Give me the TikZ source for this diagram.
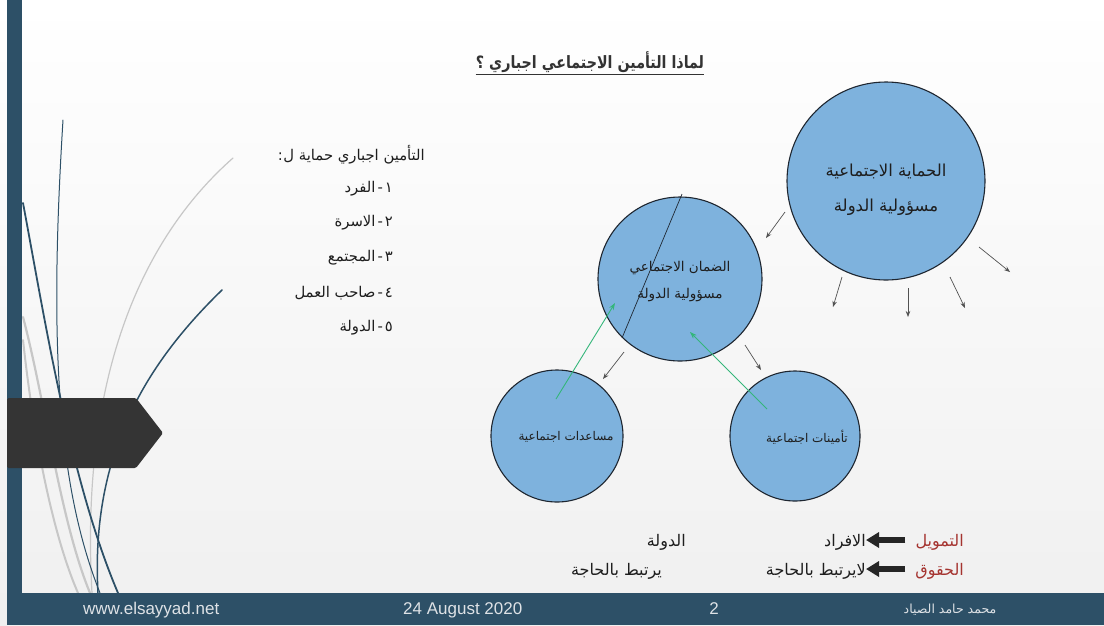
\documentclass[tikz,border=0pt]{standalone}
\usepackage{fontspec}
\usepackage{graphicx}
\usetikzlibrary{arrows.meta,calc}
\setmainfont{Liberation Sans}
\newfontfamily\arfont[Script=Arabic]{DejaVu Sans}
\TeXXeTstate=1
\newcommand{\AR}[1]{{\arfont\beginR #1\endR}}
\definecolor{barblue}{RGB}{45,80,103}
\definecolor{bubblefill}{RGB}{126,178,221}
\definecolor{bubbleline}{RGB}{30,38,48}
\definecolor{pointer}{RGB}{52,52,52}
\definecolor{flowgreen}{RGB}{52,182,122}
\definecolor{termred}{RGB}{165,52,48}
\definecolor{inktext}{RGB}{30,30,30}
\definecolor{footink}{RGB}{222,226,230}
\begin{document}
\begin{tikzpicture}[x=1pt,y=-1pt,
  bubble/.style={circle,draw=bubbleline,line width=1.1pt,fill=bubblefill,inner sep=0pt},
  bubbletext/.style={align=center,inner sep=0pt,text=inktext},
  listitem/.style={anchor=base east,inner sep=0pt,text=inktext,font=\fontsize{14.8}{17}\selectfont},
  rowtext/.style={anchor=base east,inner sep=0pt,text=inktext,font=\fontsize{16}{18}\selectfont},
  rowterm/.style={rowtext,text=termred},
  grayarrow/.style={draw=pointer!85,line width=0.7pt,-{Stealth[length=6pt,width=4.5pt]}},
  greenarrow/.style={draw=flowgreen,line width=0.9pt,-{Stealth[length=7pt,width=5pt]}},
  blockarrow/.style={draw=black!85,line width=6.5pt,-{Triangle[length=13pt,width=15pt]}},
  foottext/.style={text=footink,inner sep=0pt,font=\fontsize{17}{20}\selectfont},
  sweepdark/.style={draw=barblue,line cap=round},
  sweeplight/.style={draw=black!22,line cap=round}]
\useasboundingbox (0,0) rectangle (1104,625);
% slide background
\shade[top color=white,bottom color=black!6] (0,0) rectangle (1104,625);
% decorative sweeping curves on the left
\draw[sweeplight,line width=1.2pt] (233,158) .. controls (140,240) and (80,380) .. (92,593);
\draw[sweeplight,line width=2.2pt] (23,317) .. controls (45,400) and (60,520) .. (90,593);
\draw[sweeplight,line width=2pt] (23,340) .. controls (35,450) and (55,540) .. (78,593);
\draw[sweepdark,line width=1pt] (63,120) .. controls (50,330) and (55,480) .. (100,593);
\draw[sweepdark,line width=1.8pt] (23,203) .. controls (45,320) and (70,480) .. (118,593);
\draw[sweepdark,line width=1.5pt] (222,290) .. controls (150,360) and (90,450) .. (98,593);
% left rail and footer band
\fill[barblue] (7,0) rectangle (22,593);
\fill[barblue] (7,593) rectangle (1104,625);
% pentagon marker
\fill[pointer,rounded corners=1.5pt] (7,398) -- (136,398) -- (163,433) -- (136,468) -- (7,468) -- cycle;

% title
\node[inner sep=0pt,text=black!80,font=\bfseries\fontsize{17}{20}\selectfont] (title) at (590,62)
  {\scalebox{0.84}[1]{\AR{لماذا التأمين الاجتماعي اجباري ؟}}};
\draw[black!80,line width=0.9pt] ($(title.base west)+(0,6)$) -- ($(title.base east)+(0,6)$);

% list on the left
\node[listitem] (lead) at (425,160) {\AR{التأمين اجباري حماية ل\kern0.5pt:}};
\node[listitem] (item1) at (393,192) {\AR{١\kern2pt-\kern2pt الفرد}};
\node[listitem] (item2) at (393,226) {\AR{٢\kern2pt-\kern2pt الاسرة}};
\node[listitem] (item3) at (393,261) {\AR{٣\kern2pt-\kern2pt المجتمع}};
\node[listitem] (item4) at (393,297) {\AR{٤\kern2pt-\kern2pt صاحب العمل}};
\node[listitem] (item5) at (393,331) {\AR{٥\kern2pt-\kern2pt الدولة}};

% circles
\node[bubble,minimum size=198pt] (protC) at (886,181) {};
\node[bubble,minimum size=164pt] (guarC) at (680,279) {};
\node[bubble,minimum size=132pt] (aidC) at (557,436) {};
\node[bubble,minimum size=130pt] (insC) at (795,436) {};

\node[bubbletext,font=\fontsize{16.5}{35}\selectfont] (protT) at (886,190)
  {\AR{الحماية الاجتماعية}\\\AR{مسؤولية الدولة}};
\node[bubbletext,font=\fontsize{13.5}{27}\selectfont] (guarT) at (680,282)
  {\AR{الضمان الاجتماعي}\\\AR{مسؤولية الدولة}};
\node[bubbletext,font=\fontsize{12}{14}\selectfont] (aidT) at (566,437) {\AR{مساعدات اجتماعية}};
\node[bubbletext,font=\fontsize{12}{14}\selectfont] (insT) at (807,437) {\AR{تأمينات اجتماعية}};

% slash across the middle circle
\coordinate (slashTop) at (682,194);
\coordinate (slashBot) at (622,338);
\draw[bubbleline,line width=0.7pt] (slashTop) -- (slashBot);

% arrows radiating from the large circle
\coordinate (r1s) at (785,212); \coordinate (r1e) at (766,238);
\coordinate (r2s) at (842,277); \coordinate (r2e) at (833,307);
\coordinate (r3s) at (908,288); \coordinate (r3e) at (908,317);
\coordinate (r4s) at (950,277); \coordinate (r4e) at (965,308);
\coordinate (r5s) at (979,247); \coordinate (r5e) at (1010,272);
\foreach \k in {1,...,5} \draw[grayarrow] (r\k s) -- (r\k e);

% arrows below the middle circle
\coordinate (m1s) at (624,352); \coordinate (m1e) at (603,379);
\coordinate (m2s) at (745,345); \coordinate (m2e) at (761,370);
\draw[grayarrow] (m1s) -- (m1e);
\draw[grayarrow] (m2s) -- (m2e);

% green flows up into the middle circle
\coordinate (g1s) at (556,399); \coordinate (g1e) at (615,303);
\coordinate (g2s) at (767,409); \coordinate (g2e) at (690,332);
\draw[greenarrow] (g1s) -- (g1e);
\draw[greenarrow] (g2s) -- (g2e);

% bottom rows
\node[rowterm] (tamwil) at (964,546) {\AR{التمويل}};
\node[rowtext] (afrad) at (866,546) {\AR{الافراد}};
\node[rowtext] (dawla) at (686,546) {\AR{الدولة}};
\node[rowterm] (huquq) at (964,575) {\AR{الحقوق}};
\node[rowtext] (layart) at (866,575) {\AR{لايرتبط بالحاجة}};
\node[rowtext] (yart) at (662,575) {\AR{يرتبط بالحاجة}};
\draw[blockarrow] ($(tamwil.base west)+(-10,-6)$) -- ($(afrad.base east)+(0,-6)$);
\draw[blockarrow] ($(huquq.base west)+(-10,-6)$) -- ($(layart.base east)+(0,-6)$);

% footer
\node[foottext,anchor=base west] (site) at (83,614) {www.elsayyad.net};
\node[foottext,anchor=base west] (date) at (403,614) {24 August 2020};
\node[foottext,anchor=base] (page) at (714,614) {2};
\node[foottext,anchor=base,font=\fontsize{12.5}{14}\selectfont] (author) at (950,613) {\AR{محمد حامد الصياد}};
\end{tikzpicture}
\end{document}
